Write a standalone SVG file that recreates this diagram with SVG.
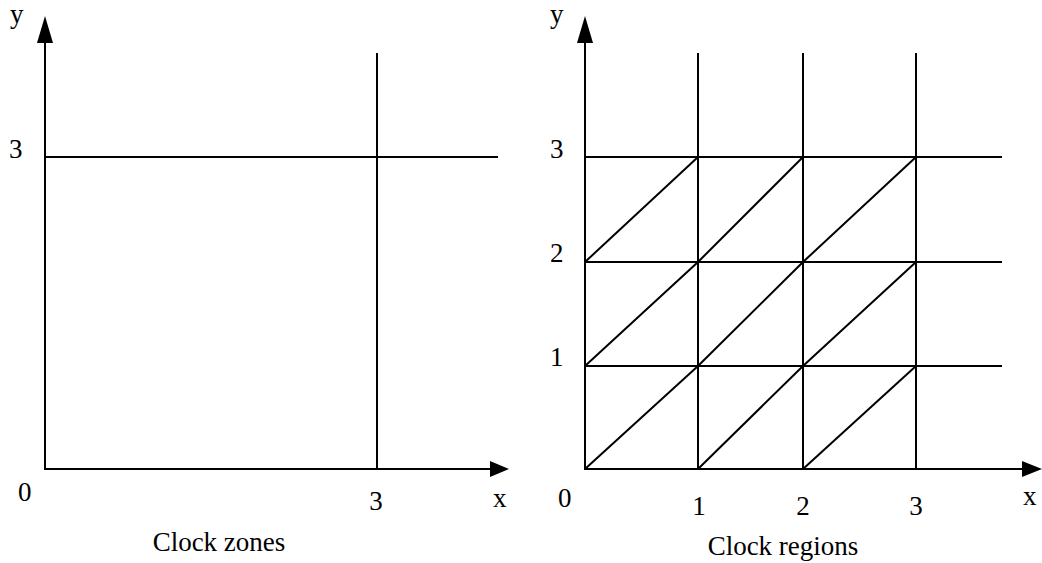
<svg xmlns="http://www.w3.org/2000/svg" width="1042" height="563" viewBox="0 0 1042 563">
<style>
.ln{stroke:#000;stroke-width:2;fill:none}
.ax{stroke:#000;stroke-width:2;fill:none}
text{font-family:'Liberation Serif','Times New Roman',Times,serif;font-size:27px;fill:#000}
.m{text-anchor:middle}
</style>
<rect width="1042" height="563" fill="#fff"/>
<g id="zones">
<g id="zones-axes">
<line class="ax" x1="45" y1="470" x2="45" y2="40"/>
<polygon points="45,16 37,43 53,43" fill="#000"/>
<line class="ax" x1="44" y1="469" x2="490" y2="469"/>
<polygon points="509,469 490,461 490,477" fill="#000"/>
</g>
<g id="zones-grid">
<line class="ln" x1="377" y1="53" x2="377" y2="469"/>
<line class="ln" x1="45" y1="157" x2="498" y2="157"/>
</g>
<text x="10" y="23">y</text>
<text x="9" y="158">3</text>
<text x="18" y="501">0</text>
<text class="m" x="376" y="510">3</text>
<text x="493" y="507">x</text>
<text class="m" x="219" y="551">Clock zones</text>
</g>
<g id="regions">
<g id="regions-axes">
<line class="ax" x1="585" y1="470" x2="585" y2="40"/>
<polygon points="585,16 577,43 593,43" fill="#000"/>
<line class="ax" x1="584" y1="469" x2="1022" y2="469"/>
<polygon points="1042,469 1022,461 1022,477" fill="#000"/>
</g>
<g id="regions-grid">
<line class="ln" x1="698" y1="53" x2="698" y2="469"/>
<line class="ln" x1="803" y1="53" x2="803" y2="469"/>
<line class="ln" x1="916" y1="53" x2="916" y2="469"/>
<line class="ln" x1="585" y1="157" x2="1002" y2="157"/>
<line class="ln" x1="585" y1="262" x2="1002" y2="262"/>
<line class="ln" x1="585" y1="366" x2="1002" y2="366"/>
</g>
<g id="regions-diagonals">
<polyline class="ln" points="585,262 698,157"/>
<polyline class="ln" points="585,366 698,262 803,157"/>
<polyline class="ln" points="585,469 698,366 803,262 916,157"/>
<polyline class="ln" points="698,469 803,366 916,262"/>
<polyline class="ln" points="803,469 916,366"/>
</g>
<text x="550" y="23">y</text>
<text x="550" y="158">3</text>
<text x="550" y="262">2</text>
<text x="550" y="366">1</text>
<text x="558" y="507">0</text>
<text class="m" x="699" y="515">1</text>
<text class="m" x="803" y="515">2</text>
<text class="m" x="916" y="515">3</text>
<text x="1023" y="505">x</text>
<text class="m" x="783" y="555">Clock regions</text>
</g>
</svg>
